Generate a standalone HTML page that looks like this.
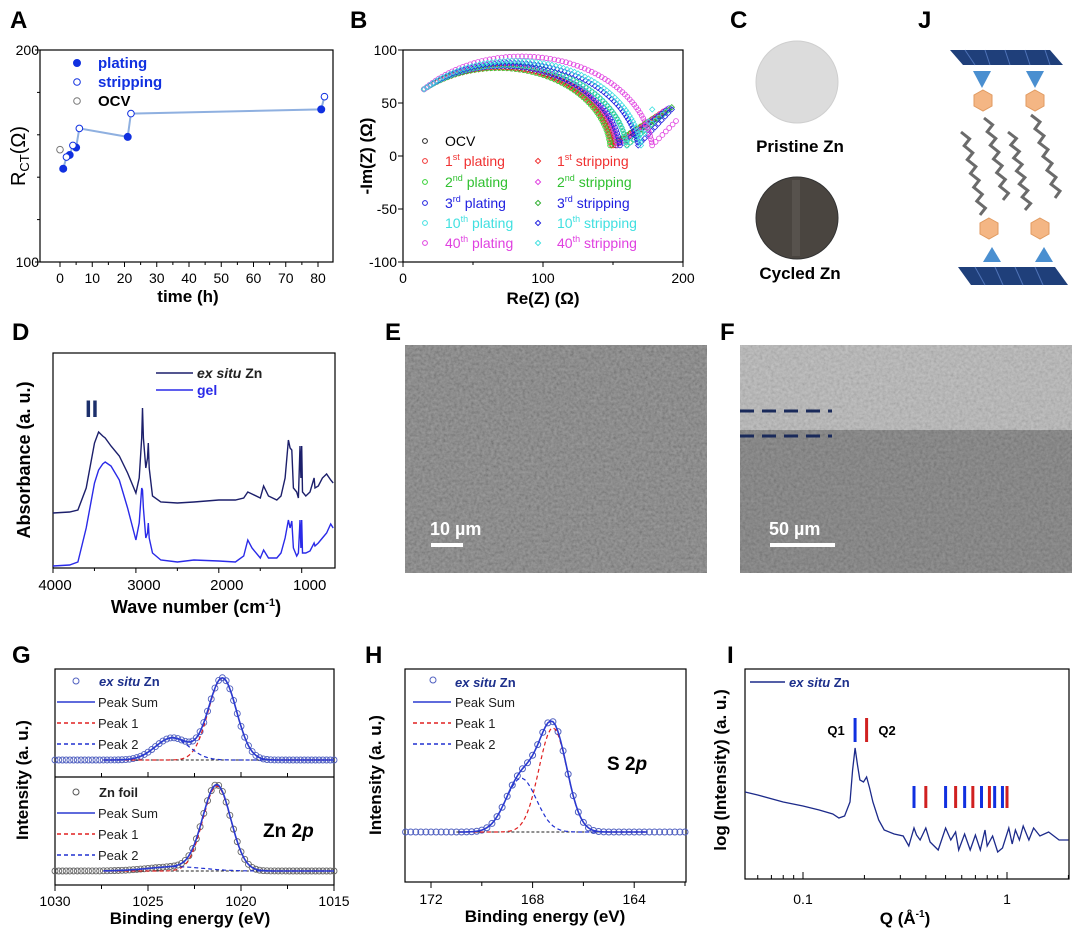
<!DOCTYPE html>
<html><head><meta charset="utf-8"><style>
html,body{margin:0;padding:0;background:#fff;}
svg{display:block;}
text{font-family:"Liberation Sans",sans-serif;}
</style></head><body>
<svg id="fig" xmlns="http://www.w3.org/2000/svg" width="1080" height="933" viewBox="0 0 1080 933">
<defs>
<filter id="sem" x="0" y="0" width="100%" height="100%"><feTurbulence type="fractalNoise" baseFrequency="0.35" numOctaves="3" seed="4"/><feColorMatrix type="saturate" values="0"/><feComponentTransfer><feFuncA type="linear" slope="0" intercept="0.35"/></feComponentTransfer></filter>
</defs>
<g font-weight="bold" font-size="24" fill="#000">
<text x="10" y="28">A</text>
<text x="350" y="28">B</text>
<text x="730" y="28">C</text>
<text x="918" y="28">J</text>
<text x="12" y="340">D</text>
<text x="385" y="340">E</text>
<text x="720" y="340">F</text>
<text x="12" y="663">G</text>
<text x="365" y="663">H</text>
<text x="727" y="663">I</text>
</g>

<g>
<circle cx="797" cy="82" r="41" fill="#dcdcdc" stroke="#cfcfcf"/>
<text x="800" y="152" font-size="17" font-weight="bold" text-anchor="middle">Pristine Zn</text>
<circle cx="797" cy="218" r="41" fill="#4a4540" stroke="#333"/>
<rect x="792" y="180" width="8" height="76" fill="#5c5852" opacity="0.7"/>
<text x="800" y="279" font-size="17" font-weight="bold" text-anchor="middle">Cycled Zn</text>
</g>

<g>
<polygon points="950,50 1050,50 1063,65 963,65" fill="#1f3f7a"/>
<g stroke="#4f73b8" stroke-width="1">
<line x1="965" y1="50" x2="975" y2="65"/><line x1="985" y1="50" x2="990" y2="65"/><line x1="1005" y1="50" x2="1010" y2="65"/><line x1="1025" y1="50" x2="1030" y2="65"/><line x1="1045" y1="50" x2="1050" y2="65"/>
</g>
<polygon points="973,71 991,71 982,88" fill="#4a8fd0"/>
<polygon points="1026,71 1044,71 1035,88" fill="#4a8fd0"/>
<polygon points="983,90 992,95 992,106 983,111 974,106 974,95" fill="#f4b684" stroke="#e09a60"/>
<polygon points="1035,90 1044,95 1044,106 1035,111 1026,106 1026,95" fill="#f4b684" stroke="#e09a60"/>
<polygon points="989,218 998,223 998,234 989,239 980,234 980,223" fill="#f4b684" stroke="#e09a60"/>
<polygon points="1040,218 1049,223 1049,234 1040,239 1031,234 1031,223" fill="#f4b684" stroke="#e09a60"/>
<polygon points="992,247 1001,262 983,262" fill="#4a8fd0"/>
<polygon points="1044,247 1053,262 1035,262" fill="#4a8fd0"/>
<polygon points="958,267 1055,267 1068,285 971,285" fill="#1f3f7a"/>
<g stroke="#4f73b8" stroke-width="1">
<line x1="975" y1="267" x2="985" y2="285"/><line x1="995" y1="267" x2="1003" y2="285"/><line x1="1015" y1="267" x2="1023" y2="285"/><line x1="1035" y1="267" x2="1043" y2="285"/>
</g>
<g id="chains" fill="none" stroke="#6b6b6b" stroke-width="3"></g>
</g>

<g>
<rect x="405" y="345" width="302" height="228" fill="#737373"/>
<rect x="405" y="345" width="302" height="228" filter="url(#sem)"/>
<rect x="431" y="543" width="32" height="4" fill="#fff"/>
<text x="430" y="535" font-size="18" font-weight="bold" fill="#fff">10 µm</text>
</g>
<g>
<rect x="740" y="345" width="332" height="228" fill="#737373"/>
<rect x="740" y="345" width="332" height="85" fill="#b4b4b4"/>
<rect x="740" y="345" width="332" height="228" filter="url(#sem)" opacity="0.8"/>
<line x1="740" y1="411" x2="832" y2="411" stroke="#1a2a5a" stroke-width="3" stroke-dasharray="14,8"/>
<line x1="740" y1="436" x2="832" y2="436" stroke="#1a2a5a" stroke-width="3" stroke-dasharray="14,8"/>
<rect x="770" y="543" width="65" height="4" fill="#fff"/>
<text x="769" y="535" font-size="18" font-weight="bold" fill="#fff">50 µm</text>
</g>

<g id="plots"></g>
</svg>
<script>
// Panel A
const aPlatTime=[1,3,5,21,81];
const aPlatR=[144,150.5,154,159,172];
const aStripTime=[2,4,6,22,82];
const aStripR=[149.5,155,163,170,178];
const aOcvTime=[0];
const aOcvR=[153];
const aXTicks=[0,10,20,30,40,50,60,70,80];
const aYTicks=[100,200];
// Panel B
const bSeries=['OCV','1st plating','1st stripping','2nd plating','2nd stripping','3rd plating','3rd stripping','10th plating','10th stripping','40th plating','40th stripping'];
const bEndRe=[152,150,149,148,153,155,160,160,168,178,170];
const bPeakIm=[84,84,83,83,85,85,86,86,88,94,90];
const bTailRe=[186,186,184,182,188,190,192,188,192,195,178];
const bTailIm=[40,42,40,38,44,45,46,42,44,33,44];
const bXTicks=[0,100,200];
const bYTicks=[-100,-50,0,50,100];
// Panel D
const dWave=[4000,3800,3700,3600,3500,3450,3400,3370,3300,3200,3100,3000,2960,2930,2920,2910,2880,2860,2850,2840,2800,2700,2500,2300,2000,1800,1700,1650,1600,1500,1460,1400,1300,1250,1200,1160,1140,1120,1100,1060,1040,1020,1010,1000,990,950,900,850,840,800,750,700,650,620];
const dExSitu=[55,56,58,80,125,136,132,130,122,112,95,75,90,130,160,130,100,110,125,100,72,66,65,66,68,68,70,76,74,70,82,72,68,72,90,128,120,118,80,76,70,122,90,122,76,72,76,90,80,82,90,94,88,85];
const dGel=[2,3,6,40,85,98,104,106,102,88,60,28,45,80,78,60,30,35,45,30,15,8,6,8,7,6,12,28,20,10,18,10,10,15,30,48,40,47,20,12,15,48,20,48,15,15,17,25,22,25,30,35,44,40];
const dXTicks=[4000,3000,2000,1000];
// Panel G
const gUpperCenters=[1021.0,1023.7];
const gUpperAmps=[1.0,0.27];
const gUpperSigmas=[0.75,0.9];
const gLowerCenters=[1021.3,1023.5];
const gLowerAmps=[1.0,0.05];
const gLowerSigmas=[0.75,1.5];
const gXTicks=[1030,1025,1020,1015];
// Panel H
const hCenters=[167.2,168.45];
const hAmps=[0.93,0.48];
const hSigmas=[0.55,0.6];
const hXTicks=[172,168,164];
// Panel I
const iQ=[0.052,0.06,0.08,0.1,0.12,0.14,0.15,0.16,0.17,0.175,0.18,0.185,0.19,0.198,0.205,0.212,0.22,0.235,0.25,0.28,0.31,0.33,0.35,0.36,0.375,0.4,0.42,0.46,0.5,0.53,0.56,0.58,0.62,0.66,0.7,0.74,0.78,0.8,0.85,0.9,0.95,1.02,1.06,1.1,1.15,1.2,1.28,1.35,1.45,1.6,1.8,2.0];
const iVal=[88,85,78,74,70,66,62,64,78,110,132,115,100,98,103,92,78,60,50,46,44,34,52,45,40,52,38,30,52,40,48,30,46,30,45,30,50,34,44,28,32,52,36,50,40,54,40,52,44,48,40,40];
const iBlueTicks=[0.18,0.35,0.5,0.62,0.75,0.87,0.95];
const iRedTicks=[0.205,0.4,0.56,0.68,0.82,1.0];
const iXTicks=[0.1,1];

const NS='http://www.w3.org/2000/svg';
const root=document.getElementById('plots');
function mk(tag,attrs,parent){const e=document.createElementNS(NS,tag);for(const k in attrs)e.setAttribute(k,attrs[k]);(parent||root).appendChild(e);return e;}
function txt(s,attrs,parent){const e=mk('text',attrs,parent);e.textContent=s;return e;}
function poly(pts){return pts.map(p=>p[0].toFixed(1)+','+p[1].toFixed(1)).join(' ');}
function gauss(x,c,a,s){return a*Math.exp(-(x-c)*(x-c)/(2*s*s));}
function circleMark(x,y,r,stroke,fill,parent){return mk('circle',{cx:x,cy:y,r:r,stroke:stroke,fill:fill,'stroke-width':1},parent);}

(function(){
  const g=document.getElementById('chains');
  const chains=[[963,132,982,215],[986,118,1005,200],[1010,132,1027,210],[1033,115,1057,198]];
  chains.forEach(c=>{const pts=[];const n=12;for(let i=0;i<=n;i++){const t=i/n;const x=c[0]+(c[2]-c[0])*t+(i%2?5:-2);const y=c[1]+(c[3]-c[1])*t;pts.push([x,y]);}
    const e=mk('polyline',{points:poly(pts)},g);
    
    });
})();

// PANEL A
(function(){
  const g=mk('g',{});
  
  
  const xA=t=>60+t*3.225, yA=v=>262-(v-100)*2.12;
  const box=mk('rect',{x:40,y:50,width:293,height:212,fill:'none',stroke:'#000','stroke-width':1.2},g);
  
  
  aXTicks.forEach(t=>{mk('line',{x1:xA(t),y1:262,x2:xA(t),y2:267,stroke:'#000'},g);
    const l=txt(String(t),{x:xA(t),y:283,'font-size':14,'text-anchor':'middle'},g);
    
    
    if(t<80)mk('line',{x1:xA(t+5),y1:262,x2:xA(t+5),y2:265,stroke:'#000'},g);});
  aYTicks.forEach(v=>{mk('line',{x1:35,y1:yA(v),x2:40,y2:yA(v),stroke:'#000'},g);
    const l=txt(String(v),{x:39,y:yA(v)+5,'font-size':14,'text-anchor':'end'},g);
    
    });
  [120,140,160,180].forEach(v=>mk('line',{x1:37,y1:yA(v),x2:40,y2:yA(v),stroke:'#000'},g));
  const all=aPlatTime.map((t,i)=>[t,aPlatR[i]]).concat(aStripTime.map((t,i)=>[t,aStripR[i]])).sort((a,b)=>a[0]-b[0]);
  const ln=mk('polyline',{points:poly(all.map(p=>[xA(p[0]),yA(p[1])])),fill:'none',stroke:'#8fb0e0','stroke-width':2},g);
  
  
  aPlatTime.forEach((t,i)=>{const c=circleMark(xA(t),yA(aPlatR[i]),3.5,'#1030e0','#1030e0',g);
    
    });
  aStripTime.forEach((t,i)=>{const c=circleMark(xA(t),yA(aStripR[i]),3.3,'#1030e0','#fff',g);
    
    });
  aOcvTime.forEach((t,i)=>{const c=circleMark(xA(t),yA(aOcvR[i]),3.3,'#777','#fff',g);
    
    });
  circleMark(77,63,3.5,'#1030e0','#1030e0',g);
  const l1=txt('plating',{x:98,y:68,'font-size':15,'font-weight':'bold',fill:'#1030e0'},g);
  
  
  circleMark(77,82,3.3,'#1030e0','#fff',g);
  const l2=txt('stripping',{x:98,y:87,'font-size':15,'font-weight':'bold',fill:'#1030e0'},g);
  
  
  circleMark(77,101,3.3,'#777','#fff',g);
  const l3=txt('OCV',{x:98,y:106,'font-size':15,'font-weight':'bold'},g);
  
  
  const xt=txt('time (h)',{x:188,y:302,'font-size':17,'font-weight':'bold','text-anchor':'middle'},g);
  
  
  const yt=mk('text',{x:0,y:0,'font-size':20,transform:'translate(25,156) rotate(-90)','text-anchor':'middle'},g);
  yt.innerHTML='R<tspan font-size="13" dy="4">CT</tspan><tspan dy="-4">(Ω)</tspan>';
  
  
})();

// PANEL B
(function(){
  const g=mk('g',{});
  
  
  const xB=r=>403+r*1.4, yB=v=>156-v*1.06;
  const box=mk('rect',{x:403,y:50,width:280,height:212,fill:'none',stroke:'#000','stroke-width':1.2},g);
  
  
  bXTicks.forEach(t=>{mk('line',{x1:xB(t),y1:262,x2:xB(t),y2:267,stroke:'#000'},g);
    const l=txt(String(t),{x:xB(t),y:283,'font-size':14,'text-anchor':'middle'},g);
    
    });
  [50,150].forEach(t=>mk('line',{x1:xB(t),y1:262,x2:xB(t),y2:265,stroke:'#000'},g));
  bYTicks.forEach(v=>{mk('line',{x1:398,y1:yB(v),x2:403,y2:yB(v),stroke:'#000'},g);
    const l=txt(String(v),{x:397,y:yB(v)+5,'font-size':14,'text-anchor':'end'},g);
    
    });
  const markColors=['#222','#f03030','#f03030','#30d030','#e040e0','#2020e0','#30b030','#40e0e0','#2020e0','#e040e0','#40e0e0'];
  // circle through start (15,63), end (endRe,10) with top at peakIm
  function fitCircle(end,peak){
    let best=null,bestErr=1e9;
    for(let cy=-400;cy<9;cy+=0.25){const R=peak-cy;
      const d1=R*R-(63-cy)*(63-cy), d2=R*R-(10-cy)*(10-cy);
      if(d1<0||d2<0)continue;
      const cxA=15+Math.sqrt(d1), cxB=end-Math.sqrt(d2);
      const err=Math.abs(cxA-cxB);
      if(err<bestErr){bestErr=err;best=[(cxA+cxB)/2,cy,R];}}
    return best;}
  bSeries.forEach((name,si)=>{
    const sg=mk('g',{},g);
    
    
    const end=bEndRe[si];
    const [cx,cy,R]=fitCircle(end,bPeakIm[si]);
    const a0=Math.atan2(63-cy,15-cx), a1=Math.atan2(10-cy,end-cx);
    const pts=[];
    const n=Math.round((end-15)/2.2);
    for(let i=0;i<=n;i++){const a=a0+(a1-a0)*i/n;pts.push([cx+R*Math.cos(a),cy+R*Math.sin(a)]);}
    const m=Math.round((bTailRe[si]-end)/2.5);
    for(let i=1;i<=m;i++){const u=i/m;pts.push([end+(bTailRe[si]-end)*u,10+(bTailIm[si]-10)*u]);}
    const strip=name.indexOf('stripping')>=0;
    pts.forEach(p=>{const x=xB(p[0]),y=yB(p[1]);
      if(strip)mk('polygon',{points:poly([[x,y-2.6],[x+2.6,y],[x,y+2.6],[x-2.6,y]]),fill:'none',stroke:markColors[si],'stroke-width':0.8},sg);
      else mk('circle',{cx:x,cy:y,r:2.4,fill:'none',stroke:markColors[si],'stroke-width':0.8},sg);});
  });
  const leg=[['1','st',' plating','#f03030',0,1],['2','nd',' plating','#30c030',0,2],['3','rd',' plating','#2020e0',0,3],['10','th',' plating','#40e0e0',0,4],['40','th',' plating','#e040e0',0,5],
    ['1','st',' stripping','#f03030',1,1],['2','nd',' stripping','#30c030',1,2],['3','rd',' stripping','#2020e0',1,3],['10','th',' stripping','#40e0e0',1,4],['40','th',' stripping','#e040e0',1,5]];
  const rowY=[145,165,186,207,227,247];
  const legMark=['#222','#f03030','#30d030','#2020e0','#40e0e0','#e040e0'];
  const legMarkS=['','#f03030','#e040e0','#30b030','#2020e0','#40e0e0'];
  circleMark(425,rowY[0]-4,2.4,'#222','none',g);
  const o=txt('OCV',{x:445,y:rowY[0]+1,'font-size':14},g);
  
  
  leg.forEach(L=>{const col=L[4],row=L[5];const x=col?557:445,y=rowY[row]+1;
    if(col){const mx=538,my=y-5;mk('polygon',{points:poly([[mx,my-2.6],[mx+2.6,my],[mx,my+2.6],[mx-2.6,my]]),fill:'none',stroke:legMarkS[row]},g);}
    else circleMark(425,y-5,2.4,legMark[row],'none',g);
    const t=mk('text',{x:x,y:y,'font-size':14,fill:L[3]},g);
    t.innerHTML=L[0]+'<tspan font-size="9" dy="-6">'+L[1]+'</tspan><tspan dy="6">'+L[2]+'</tspan>';
    
    });
  const xt=txt('Re(Z) (Ω)',{x:543,y:304,'font-size':17,'font-weight':'bold','text-anchor':'middle'},g);
  
  
  const yt=txt('-Im(Z) (Ω)',{x:0,y:0,'font-size':17,'font-weight':'bold','text-anchor':'middle',transform:'translate(372,156) rotate(-90)'},g);
  
  
})();

// PANEL D
(function(){
  const g=mk('g',{});
  
  
  const xD=w=>53+(4000-w)*0.0829, yD=a=>568-a;
  const box=mk('rect',{x:53,y:353,width:282,height:215,fill:'none',stroke:'#000','stroke-width':1.2},g);
  
  
  dXTicks.forEach(w=>{mk('line',{x1:xD(w),y1:568,x2:xD(w),y2:573,stroke:'#000'},g);
    const l=txt(String(w),{x:xD(w)+(w<4000?8:2),y:590,'font-size':15,'text-anchor':'middle'},g);
    
    });
  [3500,2500,1500].forEach(w=>mk('line',{x1:xD(w),y1:568,x2:xD(w),y2:571,stroke:'#000'},g));
  const c1=mk('polyline',{points:poly(dWave.map((w,i)=>[xD(w),yD(dExSitu[i])])),fill:'none',stroke:'#1c1f6b','stroke-width':1.4},g);
  
  
  const c2=mk('polyline',{points:poly(dWave.map((w,i)=>[xD(w),yD(dGel[i])])),fill:'none',stroke:'#2a2ae8','stroke-width':1.4},g);
  
  
  mk('line',{x1:156,y1:373,x2:193,y2:373,stroke:'#1c1f6b','stroke-width':1.4},g);
  const t1=mk('text',{x:197,y:378,'font-size':14,'font-weight':'bold',fill:'#222'},g);
  t1.innerHTML='<tspan font-style="italic">ex situ</tspan> Zn';
  
  
  mk('line',{x1:156,y1:390,x2:193,y2:390,stroke:'#2a2ae8','stroke-width':1.4},g);
  const t2=txt('gel',{x:197,y:395,'font-size':14,'font-weight':'bold',fill:'#2a2ae8'},g);
  
  
  const ii=txt('II',{x:85,y:417,'font-size':24,'font-weight':'bold',fill:'#1c2f6b'},g);
  
  
  const xt=mk('text',{x:196,y:613,'font-size':18,'font-weight':'bold','text-anchor':'middle'},g);
  xt.innerHTML='Wave number (cm<tspan font-size="11" dy="-7">-1</tspan><tspan dy="7">)</tspan>';
  
  
  const yt=txt('Absorbance (a. u.)',{x:0,y:0,'font-size':18,'font-weight':'bold','text-anchor':'middle',transform:'translate(30,460) rotate(-90)'},g);
  
  
})();

// PANEL G
(function(){
  const g=mk('g',{});
  
  
  const xG=e=>55+(1030-e)/15*279;
  const box=mk('rect',{x:55,y:669,width:279,height:216,fill:'none',stroke:'#000','stroke-width':1.2},g);
  
  
  mk('line',{x1:55,y1:777,x2:334,y2:777,stroke:'#000','stroke-width':1.2},g);
  gXTicks.forEach(e=>{mk('line',{x1:xG(e),y1:885,x2:xG(e),y2:891,stroke:'#000'},g);mk('line',{x1:xG(e),y1:777,x2:xG(e),y2:772,stroke:'#000'},g);
    const l=txt(String(e),{x:xG(e),y:906,'font-size':14,'text-anchor':'middle'},g);
    
    });
  [1027.5,1022.5,1017.5].forEach(e=>{mk('line',{x1:xG(e),y1:885,x2:xG(e),y2:889,stroke:'#000'},g);mk('line',{x1:xG(e),y1:777,x2:xG(e),y2:773,stroke:'#000'},g);});
  function drawPanel(C,A,S,base,scale,lbl){
    const yy=v=>base-v*scale;
    const sg=mk('g',{},g);
    
    
    const es=[];for(let e=1030;e>=1015;e-=0.1)es.push(e);
    const sum=e=>C.reduce((s,c,i)=>s+gauss(e,c,A[i],S[i]),0);
    es.filter((e,i)=>i%2===0).forEach(e=>mk('circle',{cx:xG(e),cy:yy(sum(e)),r:3,fill:'none',stroke:lbl==='upper'?'#5060c0':'#666','stroke-width':0.9},sg));
    mk('line',{x1:xG(1027),y1:base,x2:xG(1015),y2:base,stroke:'#222','stroke-dasharray':'3,2'},sg);
    mk('polyline',{points:poly(es.filter(e=>e<1027.5).map(e=>[xG(e),yy(gauss(e,C[0],A[0],S[0]))])),fill:'none',stroke:'#e02020','stroke-dasharray':'4,3','stroke-width':1.2},sg);
    mk('polyline',{points:poly(es.filter(e=>e<1027.5).map(e=>[xG(e),yy(gauss(e,C[1],A[1],S[1]))])),fill:'none',stroke:'#2030d0','stroke-dasharray':'4,3','stroke-width':1.2},sg);
    mk('polyline',{points:poly(es.filter(e=>e<1027.5).map(e=>[xG(e),yy(sum(e))])),fill:'none',stroke:'#2a3ad0','stroke-width':1.6},sg);
  }
  drawPanel(gUpperCenters,gUpperAmps,gUpperSigmas,760,82,'upper');
  drawPanel(gLowerCenters,gLowerAmps,gLowerSigmas,871,85,'lower');
  function legend(y0,first,italic,col){
    circleMark(76,y0-4,3,col,'none',g);
    const t=mk('text',{x:99,y:y0+1,'font-size':13,'font-weight':'bold',fill:italic?'#1c2f8b':'#222'},g);
    t.innerHTML=italic?'<tspan font-style="italic">ex situ</tspan> Zn':first;
    
    
    const rows=[['Peak Sum','#2a3ad0',''],['Peak 1','#e02020','4,3'],['Peak 2','#2030d0','4,3']];
    rows.forEach((r,i)=>{const y=y0+21*(i+1);mk('line',{x1:57,y1:y-4,x2:95,y2:y-4,stroke:r[1],'stroke-width':1.5,'stroke-dasharray':r[2]},g);
      const l=txt(r[0],{x:98,y:y+1,'font-size':13,fill:'#222'},g);
      
      });
  }
  legend(685,'',true,'#5060c0');
  legend(796,'Zn foil',false,'#555');
  const zn=mk('text',{x:263,y:837,'font-size':19,'font-weight':'bold'},g);
  zn.innerHTML='Zn 2<tspan font-style="italic">p</tspan>';
  
  
  const xt=txt('Binding energy (eV)',{x:190,y:924,'font-size':17,'font-weight':'bold','text-anchor':'middle'},g);
  
  
  const yt=txt('Intensity (a. u.)',{x:0,y:0,'font-size':17,'font-weight':'bold','text-anchor':'middle',transform:'translate(28,780) rotate(-90)'},g);
  
  
})();

// PANEL H
(function(){
  const g=mk('g',{});
  
  
  const xH=e=>431+(172-e)*25.4, yH=v=>832-v*112;
  const box=mk('rect',{x:405,y:669,width:281,height:213,fill:'none',stroke:'#000','stroke-width':1.2},g);
  
  
  hXTicks.forEach(e=>{mk('line',{x1:xH(e),y1:882,x2:xH(e),y2:888,stroke:'#000'},g);
    const l=txt(String(e),{x:xH(e),y:904,'font-size':14,'text-anchor':'middle'},g);
    
    });
  [170,166,162].forEach(e=>mk('line',{x1:xH(e),y1:882,x2:xH(e),y2:886,stroke:'#000'},g));
  const es=[];for(let e=173;e>=161.9;e-=0.1)es.push(e);
  const sum=e=>hCenters.reduce((s,c,i)=>s+gauss(e,c,hAmps[i],hSigmas[i]),0);
  es.filter((e,i)=>i%2===0).forEach(e=>{const c=circleMark(xH(e),yH(sum(e)),3,'#5060c0','none',g);
    
    });
  mk('line',{x1:xH(171),y1:832,x2:xH(163.5),y2:832,stroke:'#222','stroke-dasharray':'3,2'},g);
  const sub=es.filter(e=>e<=171&&e>=163.5);
  [[0,'#e02020','hs-peak-1'],[1,'#2030d0','hs-peak-2']].forEach(p=>{const l=mk('polyline',{points:poly(sub.map(e=>[xH(e),yH(gauss(e,hCenters[p[0]],hAmps[p[0]],hSigmas[p[0]]))])),fill:'none',stroke:p[1],'stroke-dasharray':'4,3','stroke-width':1.2},g);
    
    });
  const ps=mk('polyline',{points:poly(sub.map(e=>[xH(e),yH(sum(e))])),fill:'none',stroke:'#2a3ad0','stroke-width':1.6},g);
  
  
  circleMark(433,680,3,'#5060c0','none',g);
  const t=mk('text',{x:455,y:687,'font-size':13,'font-weight':'bold',fill:'#1c2f8b'},g);
  t.innerHTML='<tspan font-style="italic">ex situ</tspan> Zn';
  
  
  [['Peak Sum','#2a3ad0',''],['Peak 1','#e02020','4,3'],['Peak 2','#2030d0','4,3']].forEach((r,i)=>{const y=706+21*i;mk('line',{x1:413,y1:y-4,x2:451,y2:y-4,stroke:r[1],'stroke-width':1.5,'stroke-dasharray':r[2]},g);
    const l=txt(r[0],{x:455,y:y+1,'font-size':13,fill:'#222'},g);
    
    });
  const s=mk('text',{x:607,y:770,'font-size':19,'font-weight':'bold'},g);
  s.innerHTML='S 2<tspan font-style="italic">p</tspan>';
  
  
  const xt=txt('Binding energy (eV)',{x:545,y:922,'font-size':17,'font-weight':'bold','text-anchor':'middle'},g);
  
  
  const yt=txt('Intensity (a. u.)',{x:0,y:0,'font-size':17,'font-weight':'bold','text-anchor':'middle',transform:'translate(381,775) rotate(-90)'},g);
  
  
})();

// PANEL I
(function(){
  const g=mk('g',{});
  
  
  const xI=q=>1007+Math.log10(q)*204, yI=v=>880-v;
  const box=mk('rect',{x:745,y:669,width:324,height:210,fill:'none',stroke:'#000','stroke-width':1.2},g);
  
  
  iXTicks.forEach(q=>{mk('line',{x1:xI(q),y1:879,x2:xI(q),y2:872,stroke:'#000'},g);
    const l=txt(String(q),{x:xI(q),y:904,'font-size':14,'text-anchor':'middle'},g);
    
    });
  [0.06,0.07,0.08,0.09,0.2,0.3,0.4,0.5,0.6,0.7,0.8,0.9,2].forEach(q=>mk('line',{x1:xI(q),y1:879,x2:xI(q),y2:875,stroke:'#000'},g));
  const c=mk('polyline',{points:poly(iQ.map((q,i)=>[xI(q),yI(iVal[i])])),fill:'none',stroke:'#1c2a8a','stroke-width':1.3},g);
  
  
  iBlueTicks.forEach((q,i)=>{const top=i===0?718:786,bot=i===0?742:808;const l=mk('line',{x1:xI(q),y1:top,x2:xI(q),y2:bot,stroke:'#1030e0','stroke-width':3},g);
    
    });
  iRedTicks.forEach((q,i)=>{const top=i===0?718:786,bot=i===0?742:808;const l=mk('line',{x1:xI(q),y1:top,x2:xI(q),y2:bot,stroke:'#d02020','stroke-width':3},g);
    
    });
  const q1=txt('Q1',{x:836,y:735,'font-size':13,'font-weight':'bold','text-anchor':'middle'},g);
  
  
  const q2=txt('Q2',{x:887,y:735,'font-size':13,'font-weight':'bold','text-anchor':'middle'},g);
  
  
  mk('line',{x1:750,y1:682,x2:785,y2:682,stroke:'#1c2a8a','stroke-width':1.5},g);
  const t=mk('text',{x:789,y:687,'font-size':13,'font-weight':'bold','font-style':'italic',fill:'#1c2f8b'},g);
  t.innerHTML='ex situ <tspan font-style="normal">Zn</tspan>';
  
  
  const xt=mk('text',{x:905,y:924,'font-size':17,'font-weight':'bold','text-anchor':'middle'},g);
  xt.innerHTML='Q (Å<tspan font-size="10" dy="-7">-1</tspan><tspan dy="7">)</tspan>';
  
  
  const yt=txt('log (Intensity) (a. u.)',{x:0,y:0,'font-size':17,'font-weight':'bold','text-anchor':'middle',transform:'translate(726,770) rotate(-90)'},g);
  
  
})();
</script>
</body></html>
